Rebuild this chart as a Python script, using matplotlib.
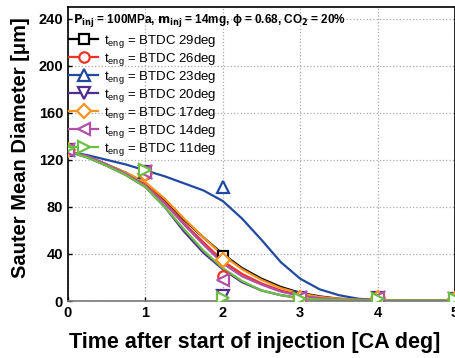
import matplotlib
matplotlib.use("Agg")
import matplotlib.pyplot as plt
from matplotlib.lines import Line2D

plt.rcParams['font.family'] = ['Liberation Sans', 'DejaVu Sans']

# marker data (x = 0..5 CA deg)
x_pts = [0, 1, 2, 3, 4, 5]
labels = ["29", "26", "23", "20", "17", "14", "11"]
pts_29 = [128, 110, 38, 2.5, 2.5, 1.5]
pts_26 = [128, 108, 21, 2.5, 2.5, 1.5]
pts_23 = [128, 110, 97, 2.5, 2.5, 1.5]
pts_20 = [128, 110, 4, 2.5, 2.5, 1.5]
pts_17 = [128, 108, 35, 2.5, 2.5, 1.5]
pts_14 = [128, 110, 18, 2.5, 2.5, 1.5]
pts_11 = [130, 111, 3, 1.5, 2.0, 1.5]

# fitted curves (x = 0..5 step 0.25)
x_fit = [0, 0.25, 0.5, 0.75, 1, 1.25, 1.5, 1.75, 2, 2.25, 2.5, 2.75, 3,
         3.25, 3.5, 3.75, 4, 4.25, 4.5, 4.75, 5]
fit_29 = [127, 123, 116, 109, 100, 86, 69, 54, 40, 28, 19, 12, 7, 4, 2, 1.2, 0.8, 0.6, 0.5, 0.5, 0.5]
fit_26 = [127, 123, 116, 108, 99, 84, 66, 50, 34, 23, 15, 9, 5, 3, 1.5, 1, 0.7, 0.5, 0.5, 0.5, 0.5]
fit_23 = [127, 124, 120, 116, 111, 106, 100, 94, 85, 70, 52, 33, 19, 10, 5, 2, 0.8, 0.5, 0.5, 0.5, 0.5]
fit_20 = [127, 122, 115, 107, 97, 80, 59, 41, 27, 16, 9, 5, 2.5, 1.2, 0.8, 0.5, 0.5, 0.5, 0.5, 0.5, 0.5]
fit_17 = [127, 123, 116, 109, 101, 87, 70, 54, 39, 27, 18, 11, 6.5, 3.5, 2, 1.2, 0.8, 0.6, 0.5, 0.5, 0.5]
fit_14 = [127, 123, 116, 108, 98, 83, 65, 48, 32, 21, 14, 8, 4.5, 2.5, 1.3, 0.8, 0.6, 0.5, 0.5, 0.5, 0.5]
fit_11 = [127, 122, 115, 107, 97, 80, 61, 43, 28, 17, 9, 5, 2.5, 1.3, 0.8, 0.5, 0.5, 0.5, 0.5, 0.5, 0.5]

pts = [pts_29, pts_26, pts_23, pts_20, pts_17, pts_14, pts_11]
fits = [fit_29, fit_26, fit_23, fit_20, fit_17, fit_14, fit_11]
colors = ['#000000', '#ee3524', '#1f4aa0', '#4e2d91', '#f7941d', '#b44fa8', '#6dbf44']
markers = ['s', 'o', '^', 'v', 'D', '<', '>']
msizes = [6.5, 7.5, 8.5, 8.5, 7, 8.5, 8.5]

fig = plt.figure(figsize=(4.56, 3.58), dpi=100)
ax = fig.add_axes([0.149, 0.159, 0.849, 0.822])

handles = []
for f, c in zip(fits, colors):
    ax.plot(x_fit, f, color=c, lw=1.6, zorder=2)
for p, c, m, ms, lab in zip(pts, colors, markers, msizes, labels):
    ax.plot(x_pts, p, linestyle='none', marker=m, ms=ms, mec=c, mfc='white',
            mew=1.6, zorder=3, clip_on=True)
    handles.append(Line2D([], [], color=c, lw=1.6, marker=m, ms=ms, mec=c,
                          mfc='white', mew=1.6,
                          label=r'$\mathregular{t_{eng}}$ = BTDC ' + lab + 'deg'))

ax.set_xlim(0, 5)
ax.set_ylim(0, 250)
ax.set_xticks([0, 1, 2, 3, 4, 5])
ax.set_yticks([0, 40, 80, 120, 160, 200, 240])
for t in ax.get_xticklabels() + ax.get_yticklabels():
    t.set_fontweight('bold')
    t.set_fontsize(10.5)
ax.tick_params(direction='in', length=3, width=1)
ax.grid(True, linestyle=':', color='#aaaaaa', lw=0.9)
for s in ax.spines.values():
    s.set_linewidth(1.2)
ax.spines['bottom'].set_color('#777777')

ax.set_xlabel('Time after start of injection [CA deg]', fontsize=15.5, fontweight='bold')
ax.xaxis.set_label_coords(0.482, -0.105)
ax.set_ylabel('Sauter Mean Diameter [μm]', fontsize=14.5, fontweight='bold')
ax.yaxis.set_label_coords(-0.097, 0.52)

ax.text(0.012, 0.952,
        r'$\mathbf{P_{inj}}$ = 100MPa, $\mathbf{m_{inj}}$ = 14mg, ϕ = 0.68, CO$\mathbf{_2}$ = 20%',
        transform=ax.transAxes, fontsize=8.5, fontweight='bold', va='center', ha='left')

leg = ax.legend(handles=handles, loc='upper left', bbox_to_anchor=(-0.01, 0.93),
                frameon=False, fontsize=9.5, handlelength=2.2, handletextpad=0.4,
                labelspacing=0.08, borderaxespad=0.0)

fig.savefig('out.png', dpi=100)
